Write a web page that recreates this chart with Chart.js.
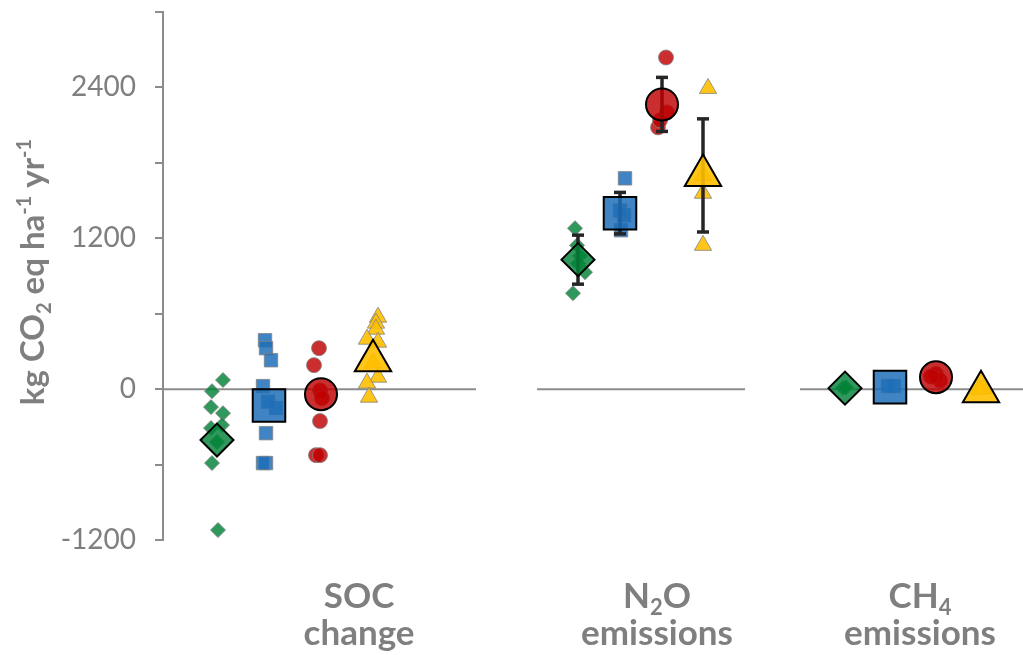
<!DOCTYPE html>
<html>
<head>
<meta charset="utf-8">
<script src="https://cdn.jsdelivr.net/npm/chart.js@4.4.1/dist/chart.umd.min.js"></script>
<style>
  html, body { margin: 0; padding: 0; background: #fff; }
  #wrap { width: 1023px; height: 655px; }
</style>
</head>
<body>
<div id="wrap"><canvas id="chart"></canvas></div>
<script>
// group labels under the plot ("_" = subscript, "^{..}" = superscript)
const groupLine1 = ["SOC", "N_2O", "CH_4"];
const groupLine2 = ["change", "emissions", "emissions"];
const groupLabelX = [19.6, 49.4, 75.7];
const yTitle = "kg CO_2 eq ha^{-1} yr^{-1}";

// zero line pieces, one per group
const zeroStart = [0, 37.4, 63.7];
const zeroEnd = [31.3, 58.2, 86];

// y axis
const yMin = -1200, yMax = 3000, yStep = 600, yLabelStep = 1200;

// treatment means (SOC, N2O, CH4) with error bars
const greenX = [5.4, 41.5, 68.2];
const greenMean = [-405, 1030, 8];
const greenErr = [0, 195, 0];
const blueX = [10.6, 45.7, 72.7];
const blueMean = [-131, 1400, 16];
const blueErr = [0, 165, 0];
const redX = [15.8, 49.9, 77.3];
const redMean = [-40, 2265, 95];
const redErr = [0, 215, 0];
const yellowX = [21.0, 54.0, 81.8];
const yellowMean = [225, 1700, -20];
const yellowErr = [0, 450, 0];

// individual observations per group
const greenPtsX = [[6.0, 4.9, 4.8, 6.0, 4.8, 5.9, 4.9, 5.5, 5.4], [41.2, 41.4, 42.2, 41.0, 41.5, 41.7], [68.0, 68.3]];
const greenPts = [[72, -16, -143, -191, -310, -286, -588, -1121, -420], [1280, 1144, 930, 763, 1000, 1060], [10, 15]];
const bluePtsX = [[10.2, 10.3, 10.8, 10.0, 11.3, 10.3, 10.3, 10.0, 10.5], [46.2, 46.1, 45.8, 45.7], [72.5, 73.1]];
const bluePts = [[389, 326, 230, 24, -150, -350, -588, -588, -100], [1677, 1383, 1264, 1420], [25, 25]];
const redPtsX = [[15.6, 15.1, 15.7, 15.9, 15.7, 15.3, 15.7], [50.3, 50.4, 49.5, 49.7], [77.3, 77.7, 76.8]];
const redPts = [[326, 191, -10, -72, -254, -525, -525], [2638, 2201, 2082, 2138], [120, 70, 100]];
const yellowPtsX = [[21.5, 21.3, 21.3, 20.4, 21.5, 21.0, 21.5, 20.4, 20.6], [54.5, 54.0, 54.0, 54.0], [82.0, 81.6]];
const yellowPts = [[572, 525, 477, 397, 374, 207, 95, 48, -64], [2392, 1558, 1144, 1700], [5, 0]];

const treatments = [
  { x: greenX, mean: greenMean, err: greenErr, px: greenPtsX, py: greenPts, color: "rgba(0,130,55,0.82)", style: "rectRot", small: 7.5, big: 16.5 },
  { x: blueX, mean: blueMean, err: blueErr, px: bluePtsX, py: bluePts, color: "rgba(30,110,185,0.85)", style: "rect", small: 9.5, big: 23 },
  { x: redX, mean: redMean, err: redErr, px: redPtsX, py: redPts, color: "rgba(192,0,0,0.82)", style: "circle", small: 7.5, big: 16 },
  { x: yellowX, mean: yellowMean, err: yellowErr, px: yellowPtsX, py: yellowPts, color: "rgba(255,192,0,0.9)", style: "triangle", small: 10, big: 21 }
];

const grey = "#7f7f7f";
const datasets = [];

zeroStart.forEach((s, i) => {
  datasets.push({
    type: "line", data: [{ x: s, y: 0 }, { x: zeroEnd[i], y: 0 }],
    borderColor: "#8c8c8c", borderWidth: 2, pointRadius: 0, order: 5, clip: false
  });
});

treatments.forEach(t => {
  const pts = [];
  t.px.forEach((xs, g) => xs.forEach((x, k) => pts.push({ x: x, y: t.py[g][k] })));
  datasets.push({
    data: pts, pointStyle: t.style, pointRadius: t.small, backgroundColor: t.color,
    borderColor: "rgba(130,130,130,0.8)", borderWidth: 1, order: 4, clip: false
  });
  t.err.forEach((e, g) => {
    if (!e) return;
    datasets.push({
      type: "line", data: [{ x: t.x[g], y: t.mean[g] - e }, { x: t.x[g], y: t.mean[g] + e }],
      borderColor: "#262626", borderWidth: 3.5, pointStyle: "line", pointRadius: 6,
      pointBorderColor: "#262626", pointBorderWidth: 3.5, order: 3, clip: false
    });
  });
  datasets.push({
    data: t.x.map((x, g) => ({ x: x, y: t.mean[g] })), pointStyle: t.style, pointRadius: t.big,
    backgroundColor: t.color, borderColor: "#000", borderWidth: 2, order: 2, clip: false
  });
});

// draw text with _sub and ^{sup} pieces
function parseRuns(s) {
  const runs = [];
  const re = /_\{([^}]*)\}|\^\{([^}]*)\}|_(.)|\^(.)/g;
  let last = 0, m;
  while ((m = re.exec(s))) {
    if (m.index > last) runs.push({ t: s.slice(last, m.index) });
    if (m[1] !== undefined || m[3] !== undefined) runs.push({ t: m[1] || m[3], sub: true });
    else runs.push({ t: m[2] || m[4], sup: true });
    last = re.lastIndex;
  }
  if (last < s.length) runs.push({ t: s.slice(last) });
  return runs;
}
function drawRuns(ctx, s, x, y, size) {
  const runs = parseRuns(s);
  const font = r => "bold " + (r.sub || r.sup ? Math.round(size * 0.62) : size) + "px Lato";
  let total = 0;
  runs.forEach(r => { ctx.font = font(r); total += ctx.measureText(r.t).width; });
  let cx = x - total / 2;
  ctx.textAlign = "left";
  ctx.textBaseline = "alphabetic";
  runs.forEach(r => {
    ctx.font = font(r);
    const dy = r.sub ? size * 0.2 : r.sup ? -size * 0.38 : 0;
    ctx.fillText(r.t, cx, y + dy);
    cx += ctx.measureText(r.t).width;
  });
}

const textPlugin = {
  id: "textPlugin",
  afterDraw(chart) {
    const ctx = chart.ctx;
    const xs = chart.scales.x;
    ctx.save();
    ctx.fillStyle = grey;
    groupLine1.forEach((l, i) => {
      const px = xs.getPixelForValue(groupLabelX[i]);
      drawRuns(ctx, l, px, 608, 35);
      drawRuns(ctx, groupLine2[i], px, 645, 35);
    });
    ctx.translate(44, 272);
    ctx.rotate(-Math.PI / 2);
    drawRuns(ctx, yTitle, 0, 0, 33);
    ctx.restore();
  }
};

new Chart(document.getElementById("chart"), {
  type: "scatter",
  data: { datasets: datasets },
  options: {
    responsive: true,
    maintainAspectRatio: false,
    devicePixelRatio: 1,
    animation: false,
    events: [],
    layout: { autoPadding: false, padding: { top: 12, bottom: 115, left: 0, right: 0 } },
    plugins: { legend: { display: false }, tooltip: { enabled: false } },
    scales: {
      x: { type: "linear", min: 0, max: 86, display: false },
      y: {
        min: yMin, max: yMax,
        afterFit(scale) { scale.width = 163; scale.paddingTop = 0; scale.paddingBottom = 0; },
        ticks: {
          stepSize: yStep, padding: 19, color: grey,
          font: { family: "Lato", size: 28 },
          callback: v => (v % yLabelStep === 0 ? String(v) : "")
        },
        grid: { drawOnChartArea: false, drawTicks: true, tickLength: 8, color: "#8c8c8c", lineWidth: 2 },
        border: { display: true, color: "#8c8c8c", width: 2 }
      }
    }
  },
  plugins: [textPlugin]
});
</script>
</body>
</html>
